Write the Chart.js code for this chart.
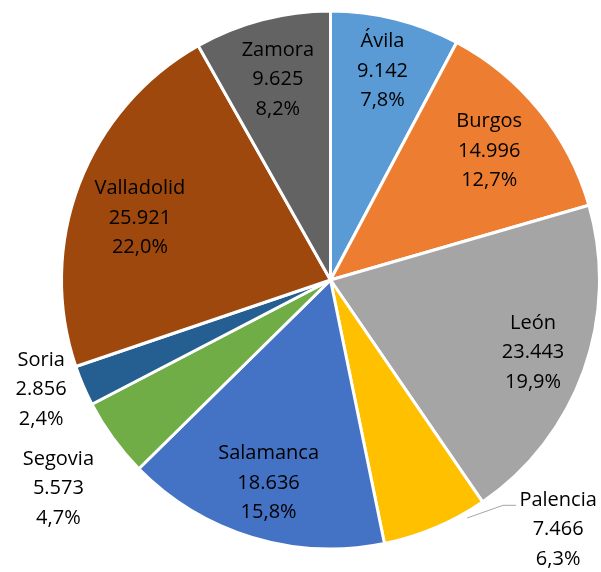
<!DOCTYPE html>
<html>
<head>
<meta charset="utf-8">
<script src="https://cdn.jsdelivr.net/npm/chart.js@4"></script>
<style>
html,body{margin:0;padding:0;background:#fff;overflow:hidden;}
#wrap{position:relative;width:601px;height:572px;}
</style>
</head>
<body>
<div id="wrap"><canvas id="c" width="601" height="572"></canvas></div>
<script>
const categories = ["Ávila","Burgos","León","Palencia","Salamanca","Segovia","Soria","Valladolid","Zamora"];
const values = [9142,14996,23443,7466,18636,5573,2856,25921,9625];
const colors = ["#5B9BD5","#ED7D31","#A5A5A5","#FFC000","#4472C4","#70AD47","#255E91","#9E480E","#636363"];
// label placement: radial factor (of radius) and optional angle override (deg clockwise from top)
const labelFactor = [0.80,0.76,0.80,1.255,0.79,1.275,1.15,0.745,0.77];
const labelAngle  = [null,null,null,137.6,null,232.5,249.3,288,null];

function fmtThousands(v){return String(v).replace(/\B(?=(\d{3})+(?!\d))/g,'.');}
const total = values.reduce((a,b)=>a+b,0);
function fmtPct(v){return (v/total*100).toFixed(1).replace('.',',')+'%';}

const labelPlugin = {
  id:'pieLabels',
  afterDatasetsDraw(chart){
    const ctx = chart.ctx;
    const meta = chart.getDatasetMeta(0);
    ctx.save();
    ctx.font = '20px "Open Sans", Lato, sans-serif';
    ctx.fillStyle = '#000';
    ctx.textAlign = 'center';
    ctx.textBaseline = 'middle';
    meta.data.forEach((arc,i)=>{
      const p = arc.getProps(['x','y','startAngle','endAngle','outerRadius'],true);
      let ang = (p.startAngle+p.endAngle)/2;
      if(labelAngle[i]!==null) ang = (labelAngle[i]-90)*Math.PI/180;
      const d = labelFactor[i]*p.outerRadius;
      const lx = p.x + d*Math.cos(ang);
      const ly = p.y + d*Math.sin(ang);
      const lines = [categories[i], fmtThousands(values[i]), fmtPct(values[i])];
      const lh = 29.5;
      lines.forEach((t,k)=>ctx.fillText(t, lx, ly + (k-1)*lh));
      if(categories[i]==='Palencia'){
        const a0 = p.startAngle + (p.endAngle-p.startAngle)*0.2;
        const sx = p.x + p.outerRadius*1.02*Math.cos(a0);
        const sy = p.y + p.outerRadius*1.02*Math.sin(a0);
        ctx.strokeStyle = '#A6A6A6';
        ctx.lineWidth = 1;
        ctx.beginPath();
        ctx.moveTo(sx, sy);
        ctx.lineTo(lx-55, ly-24);
        ctx.lineTo(lx-42, ly-24);
        ctx.stroke();
      }
    });
    ctx.restore();
  }
};

new Chart(document.getElementById('c'),{
  type:'pie',
  data:{labels:categories,datasets:[{data:values,backgroundColor:colors,borderColor:'#fff',borderWidth:3}]},
  options:{
    responsive:false,animation:false,
    layout:{padding:{left:60,right:-3,top:8,bottom:20}},
    plugins:{legend:{display:false},tooltip:{enabled:false}}
  },
  plugins:[labelPlugin]
});
</script>
</body>
</html>
